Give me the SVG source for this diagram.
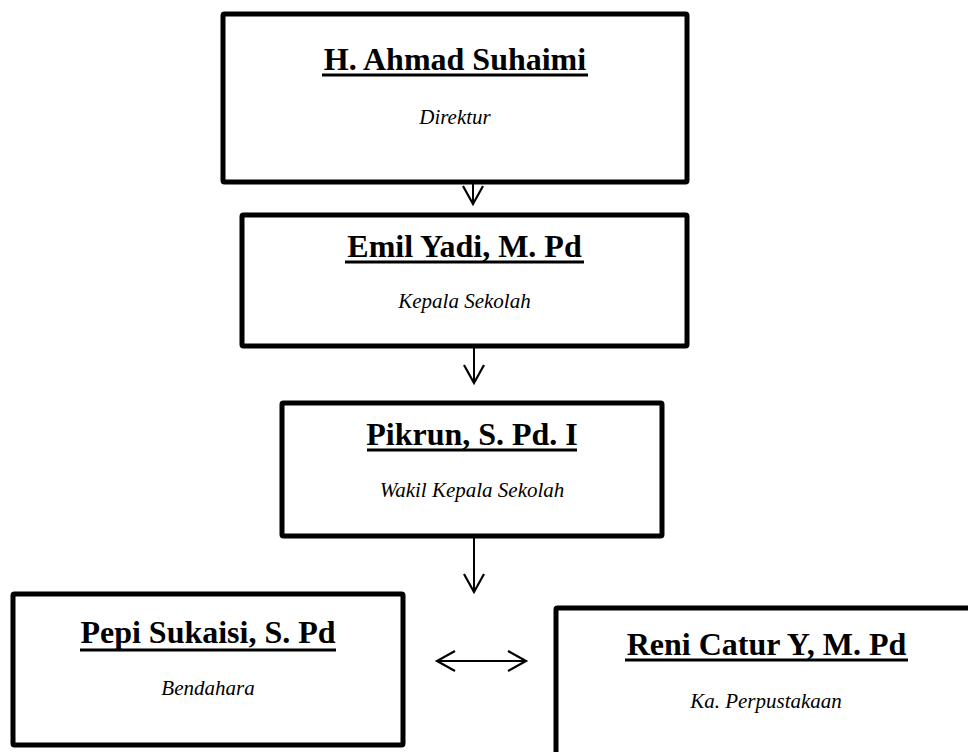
<svg xmlns="http://www.w3.org/2000/svg" width="968" height="752" viewBox="0 0 968 752">
<defs>
<marker id="arr" markerUnits="userSpaceOnUse" markerWidth="24" markerHeight="24" refX="0" refY="0" orient="auto-start-reverse" overflow="visible">
<path d="M-18,-10 L0,0 L-18,10" fill="none" stroke="#000" stroke-width="2.2" stroke-linejoin="miter"/>
</marker>
</defs>
<style>
.box{fill:#fff;stroke:#000;stroke-width:5}
.t{font-family:"Liberation Serif","Times New Roman",serif;font-weight:bold;font-size:32px;text-anchor:middle;fill:#000}
.s{font-family:"Liberation Serif","Times New Roman",serif;font-style:italic;font-size:21px;text-anchor:middle;fill:#000}
.ul{stroke:#000;stroke-width:3}
.c{stroke:#000;stroke-width:2;fill:none}
</style>
<rect width="968" height="752" fill="#fff"/>
<g id="n1">
<rect class="box" x="223" y="14" width="464" height="168" rx="1.5"/>
<text class="t" x="455" y="70">H. Ahmad Suhaimi</text>
<line class="ul" x1="322" y1="75" x2="588" y2="75"/>
<text class="s" x="455" y="124">Direktur</text>
</g>
<g id="n2">
<rect class="box" x="242" y="215" width="445" height="131" rx="1.5"/>
<text class="t" x="464.5" y="257">Emil Yadi, M. Pd</text>
<line class="ul" x1="345" y1="262" x2="584" y2="262"/>
<text class="s" x="464.5" y="308">Kepala Sekolah</text>
</g>
<g id="n3">
<rect class="box" x="282" y="403" width="380" height="133" rx="1.5"/>
<text class="t" x="472" y="445">Pikrun, S. Pd. I</text>
<line class="ul" x1="367" y1="450" x2="577" y2="450"/>
<text class="s" x="472" y="497">Wakil Kepala Sekolah</text>
</g>
<g id="n4">
<rect class="box" x="13" y="594" width="390" height="151" rx="1.5"/>
<text class="t" x="208" y="643">Pepi Sukaisi, S. Pd</text>
<line class="ul" x1="80" y1="650" x2="336" y2="650"/>
<text class="s" x="208" y="695">Bendahara</text>
</g>
<g id="n5">
<rect class="box" x="556" y="608" width="420" height="160" rx="1.5"/>
<text class="t" x="766.5" y="655">Reni Catur Y, M. Pd</text>
<line class="ul" x1="625" y1="660" x2="908" y2="660"/>
<text class="s" x="766" y="708">Ka. Perpustakaan</text>
</g>
<g id="connectors">
<line class="c" x1="473" y1="184" x2="473" y2="204" marker-end="url(#arr)"/>
<line class="c" x1="474" y1="348" x2="474" y2="383" marker-end="url(#arr)"/>
<line class="c" x1="474" y1="538" x2="474" y2="592" marker-end="url(#arr)"/>
<line class="c" x1="437" y1="661" x2="526" y2="661" marker-start="url(#arr)" marker-end="url(#arr)"/>
</g>
</svg>
